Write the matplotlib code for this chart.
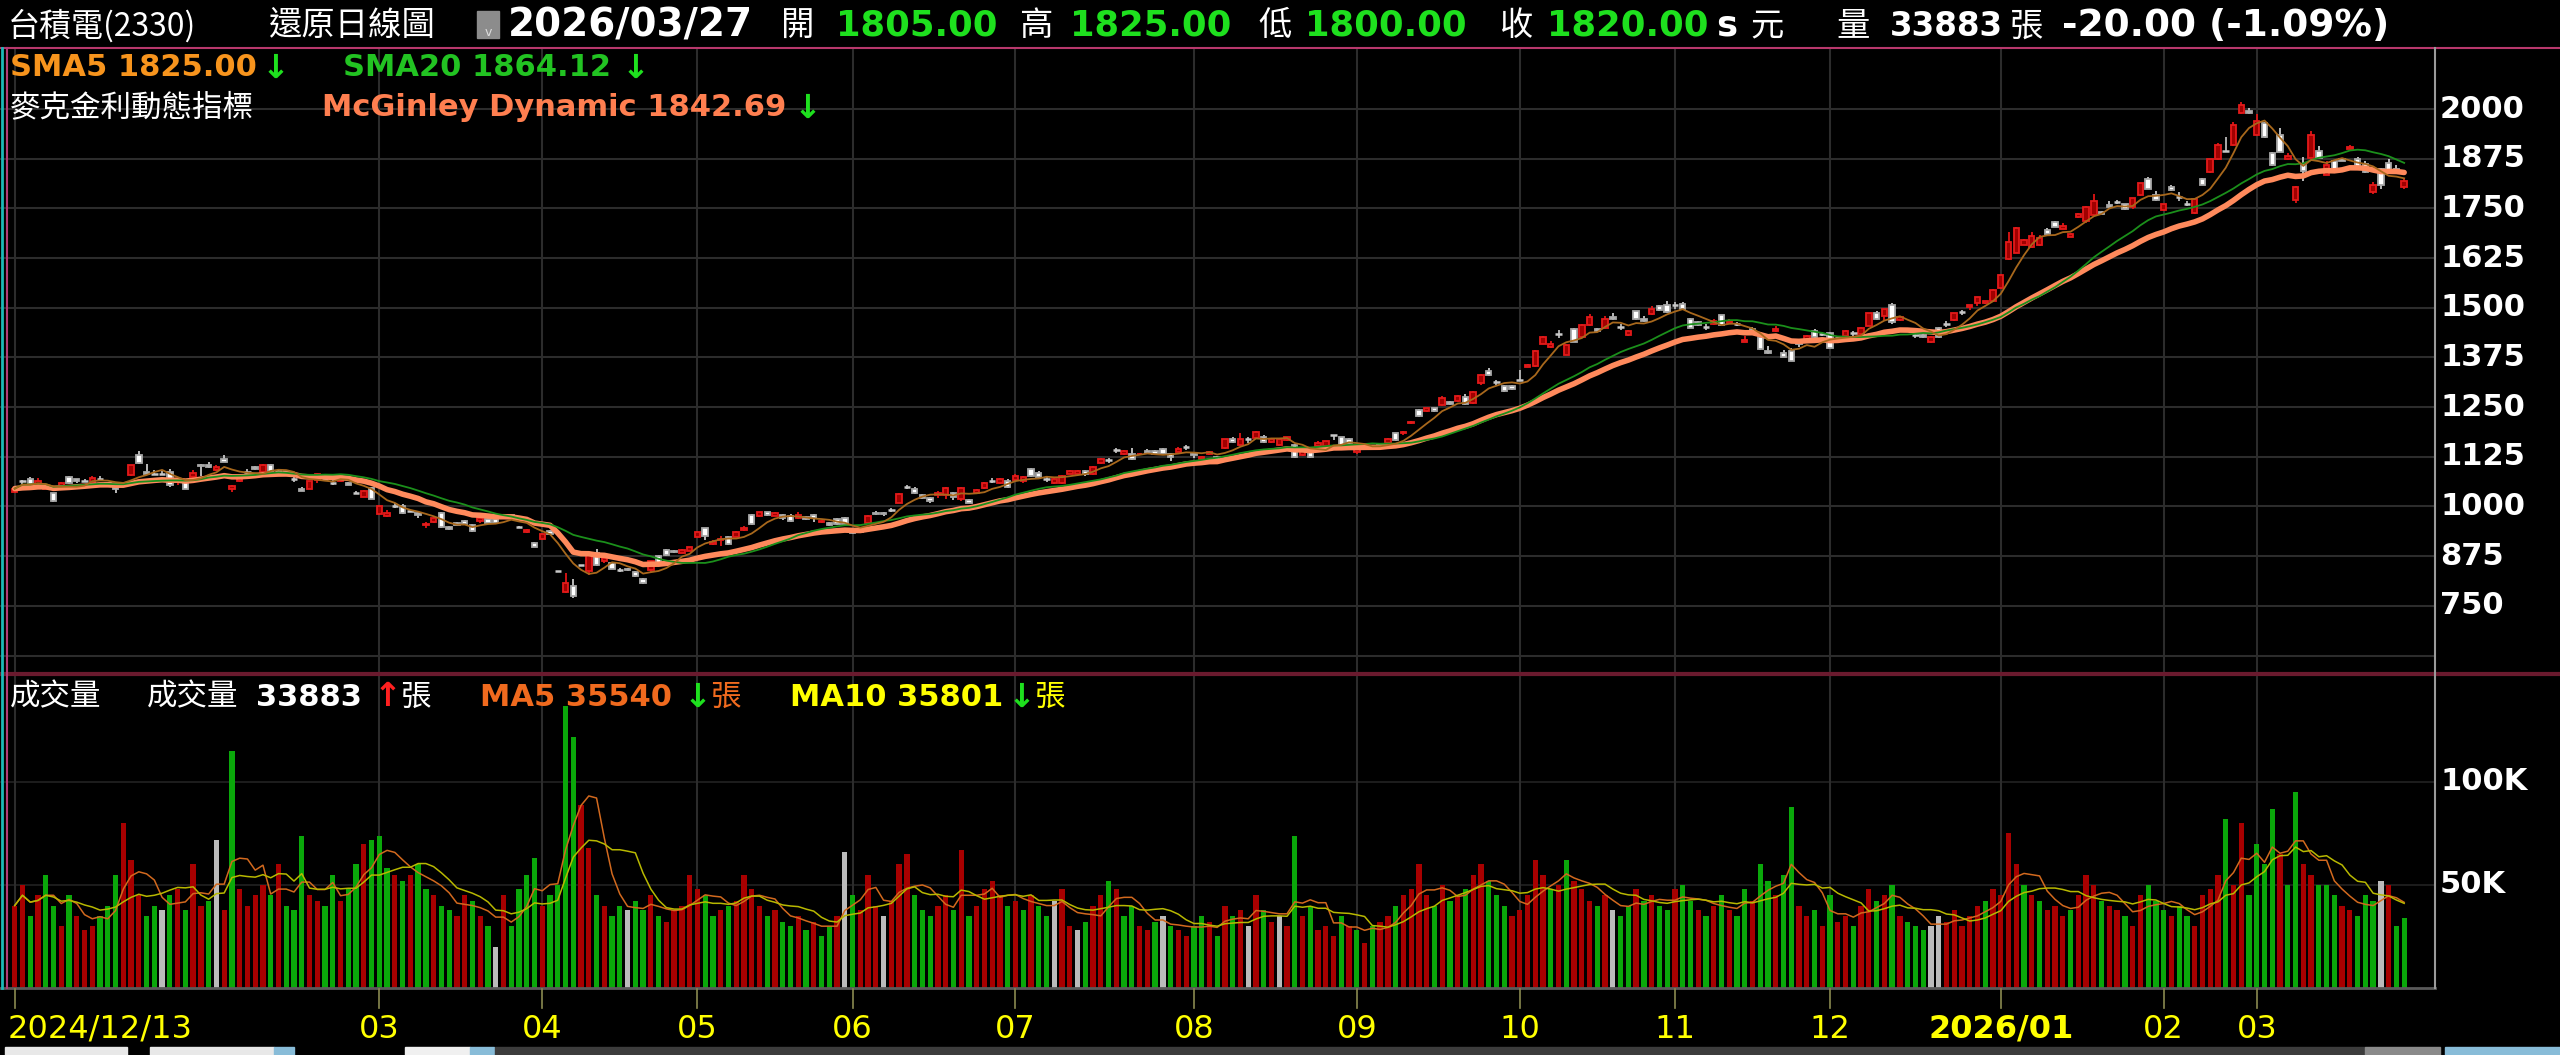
import matplotlib

matplotlib.use("Agg")

import matplotlib.pyplot as plt
from matplotlib.patches import Rectangle
import numpy as np
import pandas as pd

# ---- daily candles, 2024/12/13 .. 2026/03/27 ----
opens = [
    1037, 1065, 1070, 1053, 1045, 1033, 1045, 1075, 1069, 1065,
    1058, 1070, 1060, 1048, 1060, 1079, 1129, 1088, 1082, 1082,
    1088, 1064, 1063, 1073, 1104, 1105, 1092, 1119, 1045, 1063,
    1087, 1099, 1088, 1104, 1090, 1090, 1070, 1045, 1045, 1067,
    1070, 1060, 1064, 1060, 1035, 1025, 1046, 981, 976, 1001,
    1001, 988, 984, 953, 961, 983, 949, 959, 963, 953,
    964, 969, 968, 971, 979, 948, 935, 909, 917, 939,
    838, 785, 800, 852, 838, 884, 864, 857, 840, 844,
    835, 818, 840, 875, 890, 888, 884, 889, 924, 945,
    906, 915, 922, 924, 941, 978, 976, 985, 977, 978,
    976, 970, 974, 978, 960, 959, 969, 972, 944, 944,
    959, 984, 984, 991, 1010, 1049, 1045, 1029, 1021, 1028,
    1028, 1035, 1018, 1016, 1033, 1047, 1065, 1058, 1065, 1067,
    1065, 1095, 1085, 1070, 1058, 1058, 1083, 1083, 1089, 1083,
    1109, 1117, 1142, 1132, 1132, 1131, 1139, 1139, 1144, 1132,
    1138, 1149, 1135, 1119, 1132, 1124, 1147, 1170, 1155, 1169,
    1172, 1174, 1162, 1155, 1167, 1154, 1129, 1144, 1152, 1152,
    1179, 1174, 1169, 1137, 1152, 1144, 1156, 1160, 1184, 1184,
    1209, 1243, 1239, 1247, 1255, 1264, 1266, 1276, 1261, 1311,
    1342, 1312, 1303, 1303, 1318, 1352, 1354, 1410, 1402, 1434,
    1382, 1446, 1426, 1456, 1446, 1449, 1476, 1452, 1431, 1491,
    1471, 1484, 1504, 1506, 1506, 1509, 1471, 1465, 1451, 1459,
    1481, 1461, 1459, 1415, 1446, 1426, 1392, 1441, 1387, 1392,
    1414, 1420, 1441, 1434, 1436, 1423, 1430, 1436, 1434, 1455,
    1486, 1479, 1506, 1469, 1447, 1431, 1432, 1414, 1450, 1459,
    1469, 1489, 1501, 1511, 1511, 1516, 1550, 1623, 1639, 1659,
    1654, 1658, 1696, 1716, 1699, 1679, 1729, 1719, 1734, 1741,
    1758, 1766, 1760, 1754, 1784, 1825, 1783, 1746, 1805, 1779,
    1761, 1739, 1825, 1842, 1873, 1895, 1909, 1989, 1994, 1934,
    1966, 1890, 1935, 1873, 1771, 1862, 1878, 1895, 1835, 1870,
    1875, 1900, 1873, 1862, 1790, 1850, 1865, 1850, 1805,
]
highs = [
    1048, 1067, 1074, 1071, 1054, 1035, 1062, 1077, 1070, 1069,
    1076, 1076, 1062, 1050, 1062, 1105, 1139, 1108, 1093, 1090,
    1094, 1070, 1064, 1092, 1106, 1112, 1104, 1129, 1055, 1078,
    1094, 1101, 1106, 1106, 1094, 1092, 1078, 1048, 1065, 1082,
    1074, 1066, 1072, 1062, 1040, 1042, 1048, 1003, 991, 1008,
    1006, 992, 986, 962, 973, 985, 951, 962, 965, 955,
    972, 971, 970, 978, 981, 950, 943, 911, 934, 942,
    838, 832, 817, 852, 880, 894, 872, 860, 845, 846,
    838, 820, 864, 878, 893, 890, 892, 899, 939, 947,
    915, 925, 926, 939, 951, 980, 987, 987, 985, 980,
    980, 985, 976, 980, 966, 962, 971, 974, 946, 946,
    978, 989, 986, 997, 1033, 1055, 1048, 1031, 1023, 1038,
    1048, 1037, 1048, 1020, 1043, 1062, 1072, 1072, 1070, 1083,
    1077, 1097, 1090, 1077, 1072, 1079, 1091, 1091, 1091, 1102,
    1121, 1123, 1148, 1141, 1148, 1135, 1144, 1141, 1148, 1134,
    1150, 1154, 1137, 1126, 1139, 1126, 1171, 1174, 1184, 1175,
    1189, 1180, 1171, 1171, 1176, 1156, 1142, 1146, 1166, 1166,
    1180, 1176, 1173, 1151, 1158, 1151, 1160, 1173, 1186, 1190,
    1215, 1245, 1249, 1249, 1279, 1266, 1280, 1282, 1290, 1334,
    1349, 1318, 1305, 1305, 1343, 1358, 1394, 1428, 1416, 1443,
    1408, 1448, 1458, 1485, 1448, 1480, 1486, 1459, 1444, 1493,
    1478, 1504, 1506, 1516, 1514, 1515, 1473, 1467, 1458, 1471,
    1483, 1471, 1463, 1428, 1452, 1428, 1404, 1453, 1394, 1400,
    1416, 1432, 1446, 1440, 1438, 1430, 1443, 1442, 1452, 1488,
    1492, 1498, 1512, 1479, 1449, 1438, 1434, 1428, 1452, 1466,
    1488, 1495, 1508, 1528, 1518, 1547, 1584, 1690, 1702, 1672,
    1690, 1684, 1700, 1718, 1712, 1688, 1738, 1756, 1786, 1743,
    1768, 1772, 1762, 1777, 1815, 1830, 1793, 1762, 1810, 1792,
    1768, 1776, 1827, 1875, 1915, 1930, 1967, 2018, 2002, 1988,
    1968, 1892, 1952, 1890, 1807, 1880, 1945, 1908, 1870, 1872,
    1877, 1910, 1880, 1870, 1816, 1852, 1875, 1860, 1825,
]
lows = [
    1034, 1054, 1055, 1051, 1043, 1012, 1043, 1056, 1058, 1062,
    1056, 1064, 1053, 1035, 1052, 1077, 1108, 1082, 1079, 1078,
    1050, 1055, 1043, 1071, 1076, 1098, 1090, 1111, 1037, 1061,
    1082, 1092, 1086, 1082, 1086, 1081, 1062, 1038, 1043, 1060,
    1064, 1054, 1062, 1053, 1031, 1023, 1018, 979, 974, 995,
    982, 985, 970, 945, 959, 946, 940, 952, 955, 937,
    959, 957, 956, 969, 968, 946, 933, 897, 915, 928,
    838, 783, 771, 852, 828, 851, 858, 842, 835, 838,
    823, 805, 835, 853, 875, 883, 882, 887, 922, 915,
    902, 900, 904, 922, 939, 953, 974, 977, 975, 965,
    961, 968, 966, 962, 958, 951, 953, 951, 932, 935,
    957, 978, 976, 985, 1008, 1043, 1031, 1018, 1010, 1022,
    1020, 1017, 1015, 1008, 1031, 1045, 1058, 1056, 1046, 1065,
    1060, 1075, 1070, 1062, 1056, 1056, 1081, 1081, 1077, 1080,
    1107, 1110, 1135, 1130, 1117, 1129, 1132, 1130, 1130, 1115,
    1136, 1143, 1122, 1117, 1130, 1113, 1145, 1160, 1153, 1161,
    1170, 1160, 1160, 1153, 1165, 1122, 1127, 1122, 1150, 1150,
    1167, 1148, 1154, 1131, 1145, 1142, 1149, 1158, 1165, 1180,
    1207, 1224, 1237, 1237, 1253, 1256, 1264, 1255, 1259, 1306,
    1328, 1306, 1289, 1294, 1316, 1350, 1352, 1408, 1400, 1424,
    1380, 1413, 1424, 1454, 1439, 1447, 1469, 1445, 1429, 1469,
    1464, 1482, 1492, 1488, 1496, 1494, 1448, 1455, 1445, 1457,
    1455, 1459, 1455, 1413, 1435, 1393, 1383, 1439, 1375, 1365,
    1402, 1418, 1424, 1428, 1398, 1417, 1428, 1430, 1432, 1453,
    1469, 1470, 1460, 1467, 1438, 1424, 1424, 1412, 1424, 1452,
    1467, 1483, 1495, 1505, 1509, 1514, 1548, 1620, 1637, 1657,
    1650, 1656, 1684, 1702, 1697, 1677, 1727, 1712, 1732, 1734,
    1752, 1760, 1747, 1748, 1782, 1798, 1769, 1744, 1793, 1768,
    1755, 1737, 1808, 1840, 1871, 1893, 1907, 1987, 1987, 1932,
    1927, 1857, 1891, 1871, 1764, 1820, 1876, 1876, 1833, 1839,
    1868, 1898, 1849, 1840, 1786, 1800, 1845, 1839, 1800,
]
closes = [
    1045, 1065, 1056, 1065, 1051, 1015, 1060, 1058, 1064, 1065,
    1071, 1070, 1055, 1045, 1055, 1104, 1109, 1083, 1082, 1082,
    1055, 1068, 1045, 1084, 1101, 1100, 1100, 1113, 1051, 1075,
    1087, 1094, 1104, 1087, 1090, 1083, 1070, 1040, 1063, 1081,
    1070, 1060, 1070, 1055, 1035, 1040, 1020, 1001, 983, 1001,
    984, 988, 979, 955, 971, 948, 943, 954, 957, 939,
    970, 959, 959, 976, 970, 948, 941, 899, 932, 931,
    838, 807, 776, 852, 879, 853, 870, 844, 840, 840,
    825, 807, 862, 855, 877, 885, 890, 897, 937, 926,
    911, 917, 906, 937, 946, 955, 985, 979, 983, 970,
    963, 978, 968, 970, 963, 953, 955, 955, 934, 937,
    976, 980, 980, 991, 1031, 1049, 1033, 1021, 1015, 1035,
    1046, 1023, 1046, 1010, 1041, 1060, 1065, 1070, 1048, 1077,
    1075, 1077, 1075, 1070, 1070, 1077, 1089, 1089, 1083, 1100,
    1119, 1117, 1142, 1139, 1119, 1133, 1134, 1132, 1132, 1124,
    1144, 1149, 1129, 1124, 1137, 1115, 1169, 1162, 1169, 1169,
    1187, 1162, 1169, 1169, 1174, 1124, 1140, 1124, 1159, 1164,
    1179, 1150, 1156, 1149, 1152, 1149, 1151, 1171, 1167, 1188,
    1213, 1228, 1247, 1240, 1272, 1258, 1278, 1257, 1288, 1332,
    1330, 1312, 1291, 1296, 1318, 1356, 1392, 1426, 1408, 1434,
    1406, 1415, 1456, 1476, 1441, 1471, 1471, 1452, 1442, 1471,
    1466, 1496, 1494, 1490, 1506, 1496, 1450, 1457, 1451, 1466,
    1457, 1467, 1459, 1420, 1437, 1395, 1385, 1447, 1377, 1367,
    1409, 1430, 1426, 1434, 1400, 1423, 1441, 1436, 1450, 1486,
    1471, 1496, 1464, 1476, 1442, 1431, 1426, 1426, 1426, 1459,
    1486, 1489, 1506, 1526, 1516, 1545, 1582, 1665, 1700, 1670,
    1680, 1675, 1686, 1704, 1706, 1686, 1736, 1754, 1769, 1736,
    1754, 1766, 1749, 1775, 1813, 1800, 1771, 1760, 1795, 1779,
    1761, 1774, 1810, 1873, 1909, 1895, 1959, 2009, 1989, 1969,
    1929, 1859, 1893, 1883, 1805, 1844, 1934, 1878, 1859, 1841,
    1870, 1905, 1851, 1842, 1810, 1810, 1847, 1841, 1820,
]
# volume in thousands of 張
volumes_k = [
    40, 50, 35, 45, 55, 40, 30, 45, 35, 28,
    30, 35, 40, 55, 80, 62, 45, 35, 40, 38,
    45, 48, 38, 60, 40, 42, 72, 38, 115, 48,
    40, 45, 50, 45, 60, 40, 38, 74, 45, 42,
    40, 55, 42, 48, 60, 70, 72, 74, 58, 55,
    52, 55, 60, 48, 45, 40, 38, 35, 45, 42,
    35, 30, 20, 45, 30, 48, 55, 63, 40, 45,
    50, 137, 122, 89, 68, 45, 40, 35, 40, 38,
    42, 38, 45, 35, 32, 38, 40, 55, 48, 45,
    35, 38, 40, 42, 55, 48, 40, 35, 38, 32,
    30, 35, 28, 32, 25, 30, 35, 66, 45, 38,
    55, 40, 35, 42, 60, 65, 45, 38, 35, 40,
    45, 38, 67, 35, 40, 48, 52, 45, 40, 42,
    38, 45, 40, 35, 42, 48, 30, 28, 32, 40,
    45, 52, 48, 35, 40, 30, 28, 32, 35, 30,
    28, 25, 30, 35, 32, 25, 40, 35, 38, 30,
    45, 38, 32, 35, 30, 74, 35, 40, 28, 30,
    25, 35, 30, 28, 22, 30, 32, 35, 40, 45,
    48, 60, 45, 40, 50, 42, 45, 48, 55, 60,
    52, 45, 40, 35, 38, 45, 62, 55, 48, 50,
    62, 52, 48, 42, 40, 45, 38, 35, 40, 48,
    42, 45, 40, 38, 48, 50, 42, 38, 35, 40,
    45, 38, 35, 48, 42, 60, 52, 45, 55, 88,
    40, 35, 38, 30, 45, 32, 35, 30, 40, 48,
    42, 45, 50, 35, 32, 30, 28, 30, 35, 32,
    38, 30, 35, 40, 42, 48, 45, 75, 60, 50,
    45, 42, 38, 40, 35, 38, 45, 55, 50, 42,
    40, 38, 35, 30, 45, 50, 42, 38, 35, 40,
    35, 30, 45, 48, 55, 82, 50, 80, 45, 70,
    60, 87, 65, 50, 95, 60, 55, 50, 50, 45,
    40, 38, 35, 45, 42, 52, 50, 30, 33.883,
]

month_idx = [0, 47, 68, 88, 108, 129, 152, 173, 194, 214, 234, 256, 277, 289]
month_labels = ["2024/12/13", "03", "04", "05", "06", "07", "08", "09",
                "10", "11", "12", "2026/01", "02", "03"]
price_ticks = [2000, 1875, 1750, 1625, 1500, 1375, 1250, 1125, 1000, 875, 750]
grid_prices = price_ticks + [625]
vol_ticks = [100000, 50000]
vol_tick_labels = ["100K", "50K"]

n = len(closes)
assert len(opens) == n and len(highs) == n and len(lows) == n and len(volumes_k) == n

W, H = 2560, 1055
CJK = ["DejaVu Sans", "Noto Sans CJK TC"]
fig = plt.figure(figsize=(W / 100, H / 100), dpi=100, facecolor="black")


def fy(y):
    return 1 - y / H


PLOT_R = 2435
X0, DX = 14.7, 7.758
xlim = (-X0 / DX, (PLOT_R - X0) / DX)

ax_p = fig.add_axes([0, fy(673), PLOT_R / W, (673 - 48) / H])
ax_v = fig.add_axes([0, fy(988), PLOT_R / W, (988 - 675) / H])
for ax in (ax_p, ax_v):
    ax.axis("off")
    ax.set_xlim(*xlim)
ax_p.set_ylim(581.1, 2153.5)
ax_v.set_ylim(0, 151900)

GRID = "#2c2c2c"
for p in grid_prices:
    ax_p.axhline(p, color=GRID, lw=1.5, zorder=0)
for v in vol_ticks:
    ax_v.axhline(v, color="#222222", lw=1.2, zorder=0)
for i in month_idx:
    ax_p.axvline(i, color=GRID, lw=1.5, zorder=0)
    ax_v.axvline(i, color=GRID, lw=1.5, zorder=0)

o = np.array(opens, float)
h = np.array(highs, float)
lo = np.array(lows, float)
c = np.array(closes, float)
xi = np.arange(n)
up, dn, fl = c > o, c < o, c == o

ax_p.vlines(xi[up], lo[up], h[up], color="#e01414", lw=1.3, zorder=2)
ax_p.vlines(xi[dn], lo[dn], h[dn], color="#c8c8c8", lw=1.3, zorder=2)
ax_p.vlines(xi[fl], lo[fl], h[fl], color="#b8b8b8", lw=1.3, zorder=2)
ax_p.bar(xi[up], (c - o)[up], bottom=o[up], width=0.7, color="#a00000",
         edgecolor="#e41a1a", lw=1.3, zorder=3)
ax_p.bar(xi[dn], (o - c)[dn], bottom=c[dn], width=0.7, color="white",
         edgecolor="#a8a8a8", lw=1.3, zorder=3)
ax_p.hlines(c[fl], xi[fl] - 0.42, xi[fl] + 0.42, color="#c8c8c8", lw=1.8, zorder=3)

# moving averages
s = pd.Series(c)
sma5 = s.rolling(5, min_periods=1).mean()
sma20 = s.rolling(20, min_periods=1).mean()
MD_N = 10
md = [c[0]]
for p in c[1:]:
    prev = md[-1]
    md.append(prev + (p - prev) / (MD_N * (p / prev) ** 4))
ax_p.plot(xi, md, color="#ff8a5c", lw=4, zorder=4, solid_capstyle="round")
ax_p.plot(xi, sma20, color="#1b8f1b", lw=1.3, zorder=5)
ax_p.plot(xi, sma5, color="#a8681c", lw=1.3, zorder=5)

# volume
vol = np.array(volumes_k) * 1000
prev_c = np.concatenate([[c[0] - 1], c[:-1]])
vcol = np.where(c > prev_c, "#a80000", np.where(c < prev_c, "#0aa80a", "#bbbbbb"))
ax_v.bar(xi, vol, width=0.68, color=vcol, zorder=2)
vs = pd.Series(vol)
ax_v.plot(xi, vs.rolling(5, min_periods=1).mean(), color="#d2691e", lw=1.1, zorder=3)
ax_v.plot(xi, vs.rolling(10, min_periods=1).mean(), color="#b8b800", lw=1.1, zorder=3)

# overlay in pixel coordinates for frame, text, axes labels
ov = fig.add_axes([0, 0, 1, 1])
ov.set_xlim(0, W)
ov.set_ylim(H, 0)
ov.axis("off")

ov.plot([0, W], [47.5, 47.5], color="#b8386c", lw=1.5)
ov.plot([0, W], [674, 674], color="#6a1a2e", lw=3)
ov.plot([0, PLOT_R], [988, 988], color="#5a5a5a", lw=2)
ov.plot([PLOT_R, PLOT_R], [48, 988], color="#9a9a9a", lw=1.5)
ov.plot([1.5, 1.5], [48, 988], color="#1cb8b8", lw=2)
ov.plot([6.5, 6.5], [48, 988], color="#b03c78", lw=1.5)


def t(x, y, s, color="white", size=22, weight="normal", ha="left", family=CJK):
    ov.text(x, y, s, color=color, fontsize=size, fontweight=weight, ha=ha,
            va="center", family=family)


GREEN = "#1ee01e"
# header
t(8, 26, "台積電(2330)", size=23, family=["Noto Sans CJK TC"])
t(269, 26, "還原日線圖", size=24, family=["Noto Sans CJK TC"])
ov.add_patch(Rectangle((477, 11), 22, 27, color="#8c8c8c"))
t(488, 32, "v", color="#dddddd", size=9, ha="center")
t(508, 26, "2026/03/27", size=28, weight="bold")
hdr = [(781, "開", "white"), (836, "1805.00", GREEN), (1019, "高", "white"),
       (1070, "1825.00", GREEN), (1258, "低", "white"), (1305, "1800.00", GREEN),
       (1500, "收", "white"), (1547, "1820.00", GREEN), (1716, "s", "white"),
       (1750, "元", "white"), (1836, "量", "white"), (2010, "張", "white")]
for x, s_, col in hdr:
    cjk = s_ in ("開", "高", "低", "收", "元", "量", "張")
    t(x, 26, s_, color=col, size=24 if cjk else 25.5, weight="normal" if cjk else "bold")
t(1890, 26, "33883", size=23.5, weight="bold")
t(2062, 26, "-20.00 (-1.09%)", size=27, weight="bold")

# price legend
t(10, 68, "SMA5 1825.00", color="#f7941d", weight="bold")
t(262, 68, "↓", color=GREEN, size=24, weight="bold")
t(343, 68, "SMA20 1864.12", color="#22c322", weight="bold")
t(622, 68, "↓", color=GREEN, size=24, weight="bold")
t(10, 108, "麥克金利動態指標", size=22, family=["Noto Sans CJK TC"])
t(322, 108, "McGinley Dynamic 1842.69", color="#ff7f50", weight="bold")
t(794, 108, "↓", color=GREEN, size=24, weight="bold")

# volume legend
t(10, 697, "成交量", family=["Noto Sans CJK TC"])
t(147, 697, "成交量", family=["Noto Sans CJK TC"])
t(256, 697, "33883", weight="bold")
t(374, 697, "↑", color="#ff2020", size=24, weight="bold")
t(400, 697, "張", family=["Noto Sans CJK TC"])
t(480, 697, "MA5 35540", color="#f06a1e", weight="bold")
t(684, 697, "↓", color=GREEN, size=24, weight="bold")
t(710, 697, "張", color="#f06a1e", family=["Noto Sans CJK TC"])
t(790, 697, "MA10 35801", color="#ffff00", weight="bold")
t(1008, 697, "↓", color=GREEN, size=24, weight="bold")
t(1034, 697, "張", color="#ffff00", family=["Noto Sans CJK TC"])

# right axis labels (mapped through the data axes)
for p in price_ticks:
    yp = ax_p.transData.transform((0, p))[1]
    t(2440, H - yp, f"{p}", weight="bold")
for v, lab in zip(vol_ticks, vol_tick_labels):
    yp = ax_v.transData.transform((0, v))[1]
    t(2440, H - yp, lab, weight="bold")

# month ticks and labels
for k, (i, lab) in enumerate(zip(month_idx, month_labels)):
    xp = ax_v.transData.transform((i, 0))[0]
    ov.plot([xp, xp], [989, 1008], color="#8a8a50", lw=1.2)
    if k == 0:
        t(8, 1029, lab, color="#ffff00", size=23)
    else:
        t(xp, 1029, lab, color="#ffff00", size=23, ha="center",
          weight="bold" if lab == "2026/01" else "normal")

# bottom scroll strip
for x0, w, col in [(5, 122, "#e8e8e8"), (150, 124, "#e8e8e8"), (274, 20, "#88bcd8"),
                   (405, 65, "#f0f0f0"), (470, 24, "#88bcd8"), (495, 1870, "#3c3c3c"),
                   (2365, 75, "#8a8a8a"), (2445, 115, "#88bcd8")]:
    ov.add_patch(Rectangle((x0, 1047), w, 8, color=col))

fig.savefig("out.png", dpi=100, facecolor="black")
